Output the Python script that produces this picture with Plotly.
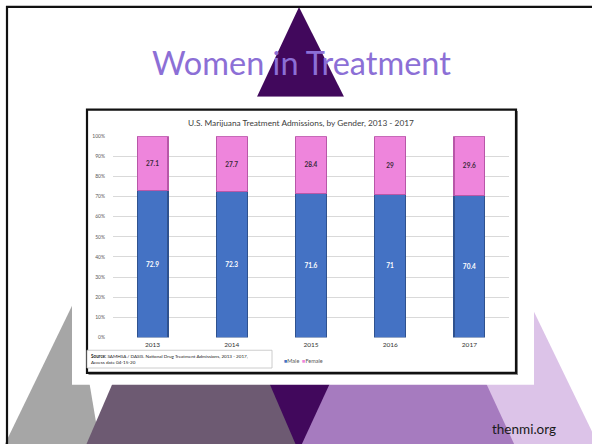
import plotly.graph_objects as go

W, H = 592, 444

years = ["2013", "2014", "2015", "2016", "2017"]
male = [72.9, 72.3, 71.6, 71.0, 70.4]
female = [27.1, 27.7, 28.4, 29.0, 29.6]
y_ticks = [0, 10, 20, 30, 40, 50, 60, 70, 80, 90, 100]
y_tick_labels = [f"{v}%" for v in y_ticks]

slide_title = "Women in Treatment"
chart_title = "U.S. Marijuana Treatment Admissions, by Gender, 2013 - 2017"
source_text = "<b>Source:</b> SAMHSA / DASIS. National Drug Treatment Admissions, 2013 - 2017,<br>Access date 04-15-20"
footer = "thenmi.org"

MALE_C = "#4472C4"
FEMALE_C = "#EE85DC"


def px(x):
    return x / W


def py(y):
    return 1 - y / H


def poly(points, color, line=None, lw=0):
    d = "M " + " L ".join(f"{px(x):.5f},{py(y):.5f}" for x, y in points) + " Z"
    return dict(type="path", xref="paper", yref="paper", path=d,
                fillcolor=color, line=dict(color=line or color, width=lw),
                layer="below")


def rect(x0, y0, x1, y1, fill, line="rgba(0,0,0,0)", lw=0):
    return dict(type="rect", xref="paper", yref="paper",
                x0=px(x0), x1=px(x1), y0=py(y1), y1=py(y0),
                fillcolor=fill, line=dict(color=line, width=lw), layer="below")


shapes = [
    # top dark triangle
    poly([(299, 4), (257, 95), (344, 95)], "#41085C"),
    # gray triangle (left)
    poly([(75.3, 300), (4, 449), (100, 449)], "#A6A6A6"),
    # lavender triangle (right)
    poly([(527.8, 300), (420, 449), (599, 449)], "#DCC3E8"),
    # dark inverted triangle
    poly([(200, 300), (400, 300), (298, 457)], "#41085C"),
    # mauve triangle
    poly([(191, 201), (81, 460), (301, 460)], "#6D5A72"),
    # light purple triangle
    poly([(408, 214), (296, 460), (520, 460)], "#A67BBF"),
    # white pasted image
    rect(72, 95, 534, 387, "white"),
    # chart frame shadow
    rect(88.5, 109.5, 518, 377, "#8c8c8c"),
    # chart frame
    rect(87, 108, 516, 375, "white", "#111111", 2.2),
    # source box
    rect(87, 352, 272, 370, "white", "#BFBFBF", 0.8),
    # slide frame
    rect(7, 4, 602, 460, "rgba(0,0,0,0)", "#111111", 2.2),
]

fig = go.Figure()
fig.add_trace(go.Bar(
    x=years, y=male, name="Male",
    marker=dict(color=MALE_C, line=dict(color="#2F528F", width=1.1)),
    texttemplate="<b>%{y}</b>", textposition="inside", insidetextanchor="middle",
    textangle=0, textfont=dict(color="white", size=6.5, family="Lato"),
))
fig.add_trace(go.Bar(
    x=years, y=female, name="Female",
    marker=dict(color=FEMALE_C, line=dict(color="#B857A8", width=1.1)),
    texttemplate="<b>%{y}</b>", textposition="inside", insidetextanchor="middle",
    textangle=0, textfont=dict(color="#3A2A3A", size=6.5, family="Lato"),
))

annotations = [
    dict(text=slide_title, x=px(301.5), y=py(60), xref="paper", yref="paper",
         showarrow=False, xanchor="center", yanchor="middle",
         font=dict(family="Lato", size=32.5, color="#8C6FD6")),
    dict(text=chart_title, x=px(301), y=py(122), xref="paper", yref="paper",
         showarrow=False, xanchor="center", yanchor="middle",
         font=dict(family="Lato", size=8.3, color="#404040")),
    dict(text=source_text, x=px(89), y=py(361), xref="paper", yref="paper",
         showarrow=False, xanchor="left", yanchor="middle", align="left",
         font=dict(family="Lato", size=4.6, color="#222222")),
    dict(text=f'<span style="color:{MALE_C}">■</span>Male  <span style="color:{FEMALE_C}">■</span>Female',
         x=px(282), y=py(363), xref="paper", yref="paper",
         showarrow=False, xanchor="left", yanchor="middle",
         font=dict(family="Lato", size=5.5, color="#595959")),
    dict(text=footer, x=px(524), y=py(432), xref="paper", yref="paper",
         showarrow=False, xanchor="center", yanchor="middle",
         font=dict(family="Lato", size=13.5, color="#1a1a1a")),
]

fig.update_layout(
    width=W, height=H,
    margin=dict(l=0, r=0, t=0, b=0),
    paper_bgcolor="white", plot_bgcolor="rgba(0,0,0,0)",
    barmode="stack", bargap=0.61, showlegend=False,
    shapes=shapes, annotations=annotations,
    xaxis=dict(domain=[px(113), px(509)], type="category",
               showgrid=False, showline=False, zeroline=False,
               ticks="", ticklabelstandoff=2,
               tickfont=dict(family="Lato", size=6.5, color="#333333")),
    yaxis=dict(domain=[py(339), py(135)], range=[0, 100],
               tickvals=y_ticks, ticktext=y_tick_labels,
               showgrid=True, gridcolor="#D9D9D9", gridwidth=0.8,
               zeroline=False, showline=False, ticks="",
               ticklabelstandoff=7,
               tickfont=dict(family="Lato", size=5, color="#595959")),
)

fig.write_html("out.html")
